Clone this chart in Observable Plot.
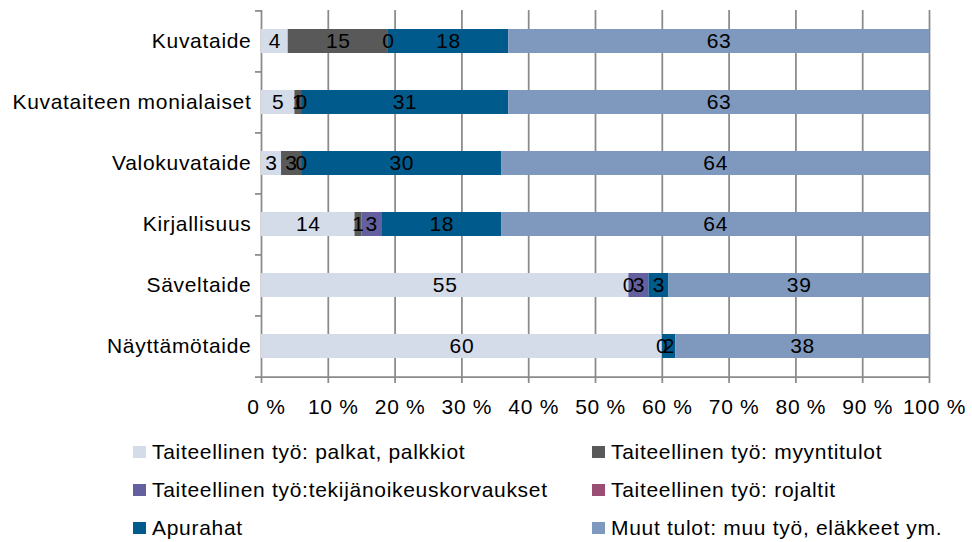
<!DOCTYPE html>
<html>
<head>
<meta charset="utf-8">
<script src="https://cdn.jsdelivr.net/npm/d3@7"></script>
<script src="https://cdn.jsdelivr.net/npm/@observablehq/plot@0.6"></script>
<style>
  html, body { margin: 0; padding: 0; background: #fff; }
  #wrap { position: relative; width: 972px; height: 542px; font-family: "Liberation Sans", Arial, sans-serif; }
  .lg { position: absolute; display: flex; align-items: center; height: 24px; font-size: 21px; letter-spacing: 0.7px; color: #000; white-space: nowrap; }
  .sw { width: 13px; height: 12px; margin-right: 6px; flex: none; }
</style>
</head>
<body>
<div id="wrap"></div>
<script>
// ---- data ----
const categories = ["Kuvataide", "Kuvataiteen monialaiset", "Valokuvataide", "Kirjallisuus", "Säveltaide", "Näyttämötaide"];
const seriesNames = [
  "Taiteellinen työ: palkat, palkkiot",
  "Taiteellinen työ: myyntitulot",
  "Taiteellinen työ:tekijänoikeuskorvaukset",
  "Taiteellinen työ: rojaltit",
  "Apurahat",
  "Muut tulot: muu työ, eläkkeet ym."
];
const palkat      = [4, 5, 3, 14, 55, 60];
const myyntitulot = [15, 1, 3, 1, 0, 0];
const tekijanoik  = [0, 0, 0, 3, 3, null];
const rojaltit    = [null, null, null, null, null, null];
const apurahat    = [18, 31, 30, 18, 3, 2];
const muut        = [63, 63, 64, 64, 39, 38];
const colors = ["#d5dce9", "#595959", "#64609f", "#9b4e73", "#005a8c", "#7f98bd"];
const xTicks = [0, 10, 20, 30, 40, 50, 60, 70, 80, 90, 100];

const seriesValues = [palkat, myyntitulot, tekijanoik, rojaltit, apurahat, muut];
const rows = [];
seriesValues.forEach((vals, s) => {
  vals.forEach((v, i) => {
    if (v != null) rows.push({cat: categories[i], series: seriesNames[s], value: v});
  });
});

const width = 972, height = 430;
const marginTop = 10, marginBottom = 53, marginLeft = 261, marginRight = 43;
const step = (height - marginTop - marginBottom) / categories.length;
const gray = "#8a8a8a";

const chart = Plot.plot({
  width, height, marginTop, marginBottom, marginLeft, marginRight,
  style: {fontFamily: "'Liberation Sans', Arial, sans-serif", fontSize: "21px", letterSpacing: "0.7px", color: "#000", background: "#fff"},
  x: {domain: [0, 100]},
  y: {domain: categories, paddingInner: 0.6, paddingOuter: 0.3},
  color: {domain: seriesNames, range: colors},
  marks: [
    Plot.ruleX(xTicks, {x: d => d, stroke: gray, strokeWidth: 1.75}),
    Plot.ruleY([categories[categories.length - 1]], {dy: step / 2, stroke: gray, strokeWidth: 1.75}),
    Plot.axisX(xTicks, {tickFormat: () => "", tickSize: 6, stroke: gray, strokeWidth: 1.75, label: null}),
    Plot.axisX(xTicks, {tickFormat: d => `${d} %`, tickSize: 6, tickPadding: 16, stroke: "none", fill: "#000", dx: 5, label: null}),
    Plot.axisY(categories, {tickSize: 0, tickPadding: 10, fill: "#000", label: null}),
    Plot.axisY(categories, {tickSize: 6, tickFormat: () => "", dy: -step / 2, stroke: gray, strokeWidth: 1.75, label: null}),
    Plot.axisY([categories[categories.length - 1]], {tickSize: 6, tickFormat: () => "", dy: step / 2, stroke: gray, strokeWidth: 1.75, label: null}),
    Plot.barX(rows, Plot.stackX({x: "value", y: "cat", fill: "series", order: seriesNames})),
    Plot.text(rows, Plot.stackX({x: "value", y: "cat", z: "series", order: seriesNames, text: d => String(d.value), fill: "#000", fontSize: 21}))
  ]
});

const wrap = document.getElementById("wrap");
wrap.appendChild(chart);

// legend (HTML, below the SVG)
const colLeft = [133, 592];
const rowCenter = [452, 490, 528];
seriesNames.forEach((name, i) => {
  const r = Math.floor(i / 2), c = i % 2;
  const el = document.createElement("div");
  el.className = "lg";
  el.style.left = colLeft[c] + "px";
  el.style.top = (rowCenter[r] - 12) + "px";
  const sw = document.createElement("span");
  sw.className = "sw";
  sw.style.background = colors[i];
  const tx = document.createElement("span");
  tx.textContent = name;
  el.appendChild(sw);
  el.appendChild(tx);
  wrap.appendChild(el);
});
</script>
</body>
</html>
